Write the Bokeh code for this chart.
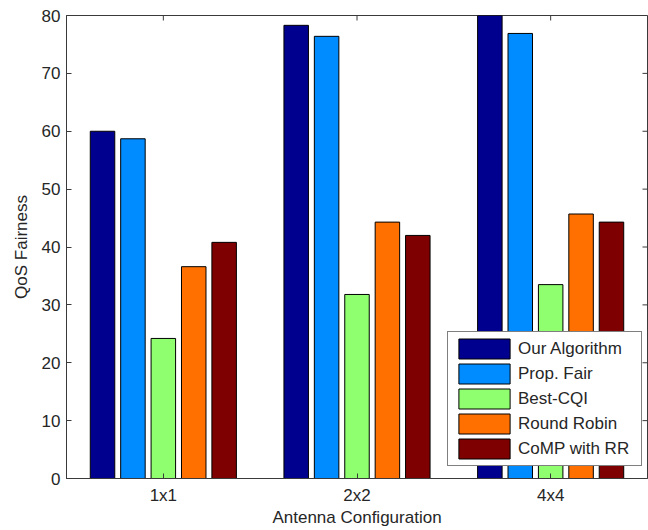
import math
from bokeh.plotting import figure
from bokeh.models import (FactorRange, Range1d, FixedTicker, Legend, LegendItem, ColumnDataSource)
from bokeh.transform import dodge
from bokeh.embed import file_html
from bokeh.resources import INLINE

categories = ["1x1", "2x2", "4x4"]
series_names = ["Our Algorithm", "Prop. Fair", "Best-CQI", "Round Robin", "CoMP with RR"]
our_algorithm = [60.0, 78.3, 80.0]
prop_fair = [58.7, 76.4, 76.9]
best_cqi = [24.2, 31.8, 33.5]
round_robin = [36.6, 44.3, 45.7]
comp_rr = [40.8, 42.0, 44.3]
y_ticks = [0, 10, 20, 30, 40, 50, 60, 70, 80]

colors = ["#00008F", "#008CFF", "#8FFF70", "#FF7000", "#7F0000"]
offsets = [-0.314, -0.157, 0.0, 0.157, 0.314]
bar_w = 0.1265

FONT = "Liberation Sans"
TXT = "#262626"
AX = "#3a3a3a"

src = ColumnDataSource(dict(cat=categories, s0=our_algorithm, s1=prop_fair, s2=best_cqi,
                            s3=round_robin, s4=comp_rr))

p = figure(width=648, height=530, x_range=FactorRange(*categories, range_padding=0),
           y_range=Range1d(0, 80), output_backend="svg", toolbar_location=None,
           min_border_left=66, min_border_right=1, min_border_top=15, min_border_bottom=52)
p.outline_line_color = AX
p.xgrid.visible = False
p.ygrid.visible = False

renderers = []
for i, col in enumerate(["s0", "s1", "s2", "s3", "s4"]):
    r = p.vbar(x=dodge("cat", offsets[i], range=p.x_range), top=col, width=bar_w, source=src,
               fill_color=colors[i], line_color="black", line_width=1)
    renderers.append(r)

for ax in [p.xaxis[0], p.yaxis[0]]:
    ax.major_tick_in = 5
    ax.major_tick_out = 0
    ax.minor_tick_in = 0
    ax.minor_tick_out = 0
    ax.axis_line_color = AX
    ax.major_tick_line_color = AX
    ax.major_label_text_font = FONT
    ax.major_label_text_font_size = "17px"
    ax.major_label_text_color = TXT
    ax.axis_label_text_font = FONT
    ax.axis_label_text_font_size = "17px"
    ax.axis_label_text_font_style = "normal"
    ax.axis_label_text_color = TXT

p.yaxis[0].ticker = FixedTicker(ticks=y_ticks)
p.yaxis[0].major_label_standoff = 6
p.yaxis[0].axis_label = "QoS Fairness"
p.yaxis[0].axis_label_standoff = 8
p.xaxis[0].major_label_standoff = 7
p.xaxis[0].axis_label = "Antenna Configuration"
p.xaxis[0].axis_label_standoff = 0

# box ticks on the top and right edges (clipped to the frame, so only the inner half shows)
top_src = ColumnDataSource(dict(cat=categories, y=[y_ticks[-1]] * len(categories)))
p.scatter(x="cat", y="y", source=top_src, marker="dash", size=10, angle=math.pi / 2,
          line_color=AX, line_width=1)
right_src = ColumnDataSource(dict(cat=[categories[-1]] * len(y_ticks), y=y_ticks))
p.scatter(x=dodge("cat", 0.5, range=p.x_range), y="y", source=right_src, marker="dash",
          size=10, line_color=AX, line_width=1)

items = [LegendItem(label=series_names[i], renderers=[renderers[i]]) for i in range(5)]
legend = Legend(items=items, location=(381, 12), glyph_width=64, glyph_height=25,
                label_width=119, label_height=25, spacing=0, padding=4, margin=0,
                label_standoff=2, label_text_font=FONT, label_text_font_size="17px",
                label_text_color=TXT, border_line_color="black", border_line_width=1,
                background_fill_color="white", background_fill_alpha=1.0)
p.add_layout(legend, "center")

open("out.html", "w").write(file_html(p, INLINE))
